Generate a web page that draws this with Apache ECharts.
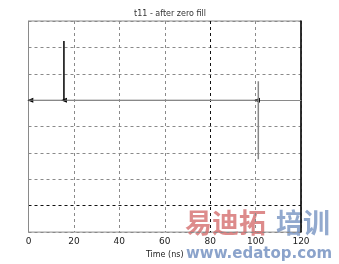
<!DOCTYPE html>
<html><head><meta charset="utf-8">
<script src="https://cdn.jsdelivr.net/npm/echarts@6/dist/echarts.min.js"></script>
<style>html,body{margin:0;padding:0;background:#fff}#c{width:339px;height:264px}</style>
</head><body><div id="c"></div>
<script>
var titleText = 't11 - after zero fill';
var xTicks = [0, 20, 40, 60, 80, 100, 120];
var baseline = [[0, 0], [101, 0]];
var spike1 = [[15.6, 0], [15.6, 2.24]];
var spike2 = [[101.2, 0.72], [101.2, -2.24]];
var markers = [[0.8, 0], [15.6, 0], [100.6, 0]];

var chart = echarts.init(document.getElementById('c'));
var gridGrey = '#8a8a8a';
chart.setOption({
  animation: false,
  title: { text: titleText, left: 165, top: 5, textAlign: 'center',
    textStyle: { fontSize: 8, fontWeight: 'normal', color: '#333', fontFamily: 'DejaVu Sans' } },
  grid: { left: 28.5, right: 38, top: 21, bottom: 29, show: true, borderColor: gridGrey, borderWidth: 1 },
  xAxis: {
    type: 'value', min: xTicks[0], max: xTicks[xTicks.length - 1], interval: 20,
    name: 'Time (ns)', nameLocation: 'middle', nameGap: 17,
    nameTextStyle: { fontSize: 8, color: '#222', fontFamily: 'DejaVu Sans' },
    axisLine: { show: true, lineStyle: { color: gridGrey } },
    axisTick: { show: false },
    axisLabel: { fontSize: 9, color: '#222', margin: 5, fontFamily: 'DejaVu Sans' },
    splitLine: { show: true, lineStyle: { color: [gridGrey, gridGrey, gridGrey, gridGrey, '#111', gridGrey, gridGrey], type: [3, 3], width: 1 } }
  },
  yAxis: [{
    type: 'value', min: -5, max: 3, interval: 1,
    axisLine: { show: true, lineStyle: { color: gridGrey } },
    axisTick: { show: false }, axisLabel: { show: false },
    splitLine: { show: true, lineStyle: { color: [gridGrey, '#111', gridGrey, gridGrey, gridGrey, gridGrey, gridGrey, gridGrey, gridGrey], type: [3, 3], width: 1 } }
  }, {
    type: 'value', min: -5, max: 3, interval: 1, position: 'right',
    axisLine: { show: true, lineStyle: { color: '#000', width: 1.5 } },
    axisTick: { show: false }, axisLabel: { show: false }, splitLine: { show: false }
  }],
  series: [
    { type: 'line', data: baseline, symbol: 'none', lineStyle: { color: '#888', width: 1 } },
    { type: 'line', data: spike1, symbol: 'none', lineStyle: { color: '#000', width: 1.5 } },
    { type: 'line', data: spike2, symbol: 'none', lineStyle: { color: '#888', width: 1.5 } },
    { type: 'scatter', data: markers, symbol: 'triangle', symbolSize: [5, 6], symbolRotate: 90,
      itemStyle: { color: '#000', opacity: 1 } }
  ],
  graphic: [
    { type: 'text', left: 185, top: 209, silent: true,
      style: { text: '易迪拓', font: 'bold 27px "Noto Sans CJK SC"', fill: 'rgba(210,100,100,0.75)' } },
    { type: 'text', left: 276, top: 209, silent: true,
      style: { text: '培训', font: 'bold 27px "Noto Sans CJK SC"', fill: 'rgba(110,140,190,0.75)' } },
    { type: 'text', left: 186, top: 247, silent: true,
      style: { text: 'www.edatop.com', font: 'bold 15px "DejaVu Sans"', fill: 'rgba(110,140,190,0.8)' } }
  ]
});
</script></body></html>
